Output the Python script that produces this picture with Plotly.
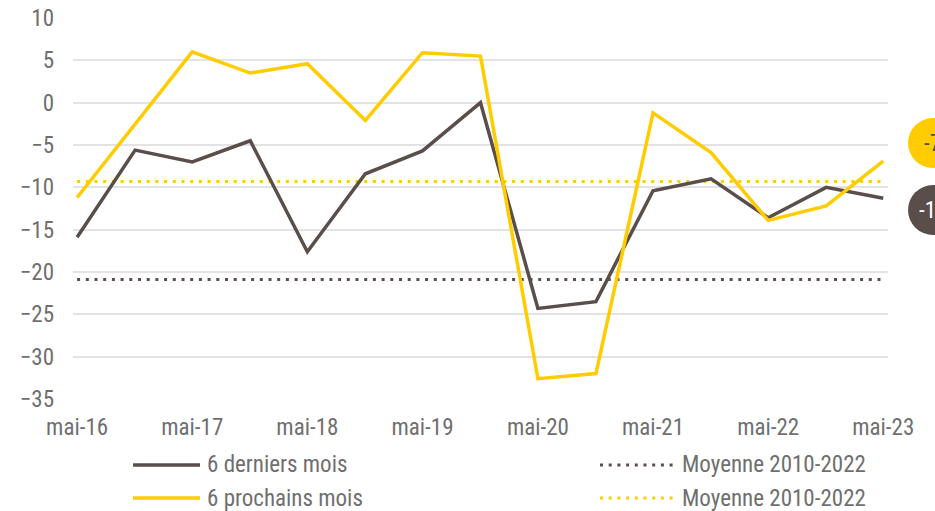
import plotly.graph_objects as go

# ---- data ----
dates = ["2016-05-01", "2016-11-01", "2017-05-01", "2017-11-01", "2018-05-01",
         "2018-11-01", "2019-05-01", "2019-11-01", "2020-05-01", "2020-11-01",
         "2021-05-01", "2021-11-01", "2022-05-01", "2022-11-01", "2023-05-01"]
derniers = [-15.9, -5.6, -7.0, -4.5, -17.6, -8.4, -5.7, 0.0, -24.3, -23.5,
            -10.4, -9.0, -13.6, -10.0, -11.3]
prochains = [-11.2, -2.6, 6.0, 3.5, 4.6, -2.1, 5.9, 5.5, -32.6, -32.0,
             -1.2, -5.9, -13.9, -12.2, -6.9]
moy_derniers = -20.9
moy_prochains = -9.3
tick_vals = ["2016-05-01", "2017-05-01", "2018-05-01", "2019-05-01",
             "2020-05-01", "2021-05-01", "2022-05-01", "2023-05-01"]
tick_text = ["mai-16", "mai-17", "mai-18", "mai-19", "mai-20", "mai-21", "mai-22", "mai-23"]
names = ["6 derniers mois", "6 prochains mois", "Moyenne 2010-2022", "Moyenne 2010-2022"]

DARK = "#5a4e4b"
YEL = "#ffcc00"
TXT = "#6f6f6f"
FONT = "Liberation Sans Narrow, Roboto Condensed, Arial Narrow, Liberation Sans, sans-serif"
FS = 23
DOT = "3px,5.7px"

fig = go.Figure()
fig.add_trace(go.Scatter(x=dates, y=[moy_derniers] * len(dates), mode="lines",
                         line=dict(color=DARK, width=3, dash=DOT), name=names[2]))
fig.add_trace(go.Scatter(x=dates, y=[moy_prochains] * len(dates), mode="lines",
                         line=dict(color=YEL, width=3, dash=DOT), name=names[3]))
fig.add_trace(go.Scatter(x=dates, y=derniers, mode="lines",
                         line=dict(color=DARK, width=3.5), name=names[0]))
fig.add_trace(go.Scatter(x=dates, y=prochains, mode="lines",
                         line=dict(color=YEL, width=3.5), name=names[1]))

fig.update_layout(
    width=935, height=511,
    margin=dict(l=73, r=47, t=18, b=112, autoexpand=False),
    paper_bgcolor="white", plot_bgcolor="white",
    showlegend=False,
    font=dict(family=FONT, size=FS, color=TXT),
    xaxis=dict(type="date", range=["2016-04-18", "2023-05-16"],
               tickvals=tick_vals, ticktext=tick_text, showgrid=False,
               zeroline=False, showline=False, ticks="", ticklabelstandoff=12,
               automargin=False, tickfont=dict(size=FS, color=TXT)),
    yaxis=dict(range=[-35, 10], dtick=5, tick0=0, showgrid=True,
               gridcolor="#e4e2e2", gridwidth=2, zeroline=False, showline=False,
               automargin=False,
               ticks="", ticklabelstandoff=18, tickfont=dict(size=FS, color=TXT)),
)

# ---- manual legend ----
def px2x(px):
    return (px - 73) / 815.0

def py2y(py):
    return (399 - py) / 381.0

legend_rows = [(465, DARK, names[0], DARK, names[2]),
               (498, YEL, names[1], YEL, names[3])]
for py, c1, t1, c2, t2 in legend_rows:
    fig.add_shape(type="line", xref="paper", yref="paper",
                  x0=px2x(133), x1=px2x(200), y0=py2y(py), y1=py2y(py),
                  line=dict(color=c1, width=3.5))
    fig.add_annotation(xref="paper", yref="paper", x=px2x(205), y=py2y(py),
                       text=t1, showarrow=False, xanchor="left", yanchor="middle",
                       font=dict(size=FS, color=TXT))
    fig.add_shape(type="line", xref="paper", yref="paper",
                  x0=px2x(600), x1=px2x(676), y0=py2y(py), y1=py2y(py),
                  line=dict(color=c2, width=3, dash=DOT))
    fig.add_annotation(xref="paper", yref="paper", x=px2x(680), y=py2y(py),
                       text=t2, showarrow=False, xanchor="left", yanchor="middle",
                       font=dict(size=FS, color=TXT))

# ---- end-value bubbles ----
bubbles = [(143, YEL, "#5a4e4b", round(prochains[-1])),
           (210, DARK, "white", round(derniers[-1]))]
for cy, fill, tcol, val in bubbles:
    fig.add_shape(type="circle", xref="paper", yref="paper",
                  x0=px2x(908), x1=px2x(958), y0=py2y(cy + 25), y1=py2y(cy - 25),
                  fillcolor=fill, line=dict(width=0), layer="above")
    fig.add_annotation(xref="paper", yref="paper", x=px2x(933), y=py2y(cy),
                       text=str(val), showarrow=False, xanchor="center",
                       yanchor="middle", font=dict(size=FS, color=tcol))

fig.write_html("out.html", config={"displayModeBar": False},
               post_script="document.body.style.margin='0';"
                           "document.body.style.overflow='hidden';")
